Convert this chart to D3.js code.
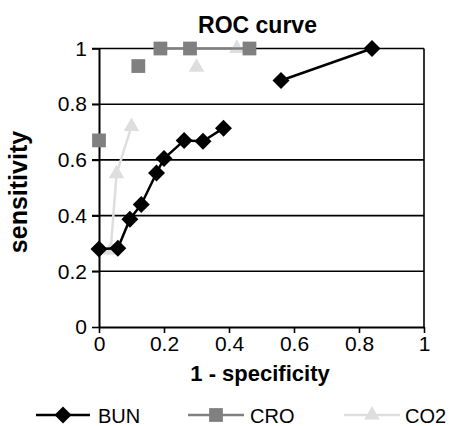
<!DOCTYPE html>
<html><head><meta charset="utf-8">
<script src="https://cdn.jsdelivr.net/npm/d3@7"></script>
<style>body{margin:0;background:#fff}svg{display:block}text{font-family:"Liberation Sans",Arial,sans-serif}</style>
</head><body>
<script>
const xTicks=[0,0.2,0.4,0.6,0.8,1];
const yTicks=[0,0.2,0.4,0.6,0.8,1];
const xTickLabels=["0","0.2","0.4","0.6","0.8","1"];
const yTickLabels=["0","0.2","0.4","0.6","0.8","1"];
const bunX=[0,0.058,0.095,0.13,0.177,0.2,0.262,0.32,0.383,null,0.56,0.84];
const bunY=[0.28,0.283,0.387,0.44,0.553,0.605,0.67,0.667,0.714,null,0.885,1.0];
const croX=[0,null,0.121,null,0.189,0.28,0.463];
const croY=[0.67,null,0.937,null,1.0,1.0,1.0];
const co2X=[0.036,0.054,0.1,null,0.30,null,0.424];
const co2Y=[0.276,0.55,0.72,null,0.933,null,1.0];
const seriesNames=["BUN","CRO","CO2"];

const W=450,H=426;
const svg=d3.select("body").append("svg").attr("width",W).attr("height",H);
const x=d3.scaleLinear().domain([0,1]).range([99,424]);
const y=d3.scaleLinear().domain([0,1]).range([327,48.5]);

svg.append("text").attr("x",257.5).attr("y",33).attr("text-anchor","middle")
  .attr("font-size",23).attr("font-weight","bold").text("ROC curve");

// gridlines
svg.append("g").selectAll("line").data(yTicks.slice(1)).join("line")
  .attr("x1",92).attr("x2",x(1)).attr("y1",d=>y(d)).attr("y2",d=>y(d))
  .attr("stroke","#000").attr("stroke-width",1.6);
// right border
svg.append("line").attr("x1",x(1)).attr("x2",x(1)).attr("y1",y(1)).attr("y2",y(0))
  .attr("stroke","#000").attr("stroke-width",1.6);

const xAxis=d3.axisBottom(x).tickValues(xTicks).tickFormat((d,i)=>xTickLabels[i]).tickSize(6).tickSizeOuter(0).tickPadding(3);
const gx=svg.append("g").attr("transform",`translate(0,${y(0)})`).call(xAxis);
gx.select(".domain").attr("stroke","#000").attr("stroke-width",2);
gx.selectAll(".tick line").attr("stroke","#000").attr("stroke-width",1.6);
gx.selectAll("text").attr("font-size",21).attr("fill","#000");

const yAxis=d3.axisLeft(y).tickValues(yTicks).tickFormat((d,i)=>yTickLabels[i]).tickSize(7).tickSizeOuter(0).tickPadding(5);
const gy=svg.append("g").attr("transform",`translate(${x(0)},0)`).call(yAxis);
gy.select(".domain").attr("stroke","#000").attr("stroke-width",2);
gy.selectAll(".tick line").attr("stroke","#000").attr("stroke-width",1.6);
gy.selectAll("text").attr("font-size",21).attr("fill","#000");

svg.append("text").attr("x",260).attr("y",381).attr("text-anchor","middle")
  .attr("font-size",22).attr("font-weight","bold").text("1 - specificity");
svg.append("text").attr("transform","translate(27,192) rotate(-90)").attr("text-anchor","middle")
  .attr("font-size",25).attr("font-weight","bold").text("sensitivity");

const series=[
  {name:"BUN",xs:bunX,ys:bunY,color:"#000",sym:d3.symbolSquare,size:144,rot:45,lineW:2.5},
  {name:"CRO",xs:croX,ys:croY,color:"#808080",sym:d3.symbolSquare,size:190,rot:0,lineW:2.5},
  {name:"CO2",xs:co2X,ys:co2Y,color:"#dedede",sym:d3.symbolTriangle,size:105,rot:0,lineW:2.5}
];
const line=d3.line().defined(d=>d[0]!==null).x(d=>x(d[0])).y(d=>y(d[1]));
[series[2],series[1],series[0]].forEach(s=>{
  const pts=s.xs.map((v,i)=>[v,s.ys[i]]);
  svg.append("path").datum(pts).attr("d",line).attr("fill","none")
    .attr("stroke",s.color).attr("stroke-width",s.lineW);
  svg.append("g").selectAll("path").data(pts.filter(p=>p[0]!==null)).join("path")
    .attr("transform",p=>`translate(${x(p[0])},${y(p[1])}) rotate(${s.rot})`)
    .attr("d",d3.symbol().type(s.sym).size(s.size)).attr("fill",s.color);
});

// legend
const leg=[{x0:36,x1:90,tx:98},{x0:188,x1:244,tx:250},{x0:344,x1:400,tx:405}];
series.forEach((s,i)=>{
  const L=leg[i], ly=415;
  svg.append("line").attr("x1",L.x0).attr("x2",L.x1).attr("y1",ly).attr("y2",ly)
    .attr("stroke",s.color).attr("stroke-width",2.5);
  svg.append("path").attr("transform",`translate(${(L.x0+L.x1)/2},${ly}) rotate(${s.rot})`)
    .attr("d",d3.symbol().type(s.sym).size(s.size)).attr("fill",s.color);
  svg.append("text").attr("x",L.tx).attr("y",ly+7.5).attr("font-size",20).attr("fill","#000").text(seriesNames[i]);
});
</script>
</body></html>
